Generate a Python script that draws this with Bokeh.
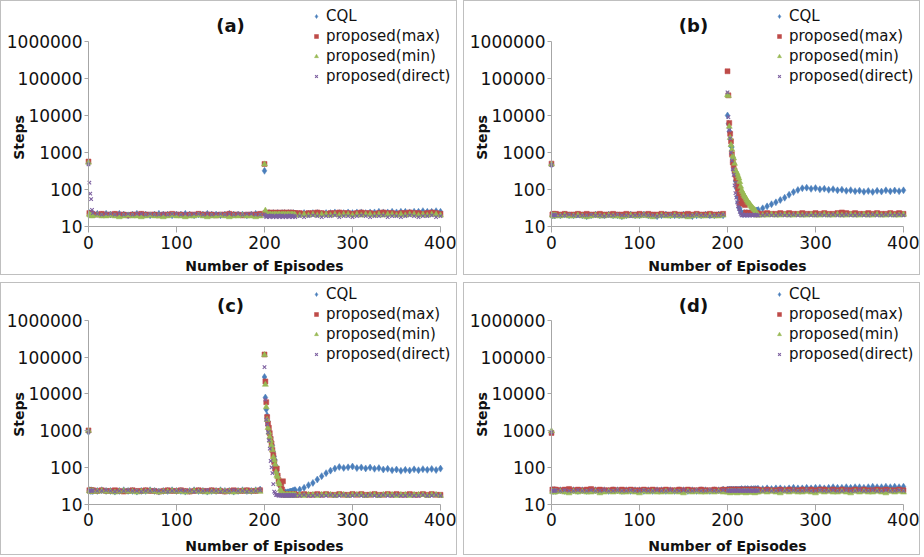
import math
from bokeh.plotting import figure
from bokeh.models import FixedTicker, NumeralTickFormatter, Label, Legend, LegendItem
from bokeh.layouts import column, row
from bokeh.embed import file_html
from bokeh.resources import INLINE

# ---------------- data ----------------
EPISODES = [0, 1, 2, 3, 4, 5,
            10, 15, 20, 25, 30, 35, 40, 45, 50, 55, 60, 65, 70, 75, 80, 85, 90, 95,
            100, 105, 110, 115, 120, 125, 130, 135, 140, 145, 150, 155, 160, 165, 170, 175,
            180, 185, 190, 195,
            200, 201, 202, 203, 204, 205, 206, 207, 208, 209, 210, 211, 212, 213, 214, 215,
            216, 217, 218, 219, 220, 221, 222, 223, 224, 225, 226, 227, 228, 229, 230, 231,
            232, 233, 234, 235,
            240, 245, 250, 255, 260, 265, 270, 275, 280, 285, 290, 295, 300, 305, 310, 315,
            320, 325, 330, 335, 340, 345, 350, 355, 360, 365, 370, 375, 380, 385, 390, 395, 400]

SERIES = ["CQL", "proposed(max)", "proposed(min)", "proposed(direct)"]
X_TICKS = [0, 100, 200, 300, 400]
Y_TICKS = [10, 100, 1000, 10000, 100000, 1000000]
PANELS = ["(a)", "(b)", "(c)", "(d)"]
X_TITLE = "Number of Episodes"
Y_TITLE = "Steps"

# ---- panel (a)
A_CQL = [520, 23, 22, 22, 21, 22,
         22, 21, 22, 21, 21, 22, 21, 20, 21, 22, 21, 21, 20, 21, 22, 21, 21, 20, 21, 21,
         22, 21, 20, 21, 21, 22, 21, 21, 20, 21, 22, 21, 21, 21, 20, 21, 22, 21,
         320, 22, 22, 21, 22, 23, 22, 21, 22, 22, 23, 22, 21, 22, 22, 23, 22, 22, 21, 22,
         23, 22, 22, 23, 22, 21, 22, 23, 22, 22, 23, 22, 22, 23, 22, 22,
         22, 23, 22, 23, 23, 22, 23, 23, 24, 23, 23, 24, 23, 24, 24, 23, 24, 24, 25, 24,
         24, 25, 24, 25, 25, 24, 25, 25, 26, 25, 25, 26, 25]
A_MAX = [570, 23, 22, 21, 22, 21,
         21, 22, 21, 21, 22, 21, 21, 20, 21, 21, 22, 21, 21, 21, 20, 21, 21, 22, 21, 21,
         20, 21, 21, 22, 21, 21, 21, 20, 21, 21, 22, 21, 21, 20, 21, 21, 21, 22,
         490, 23, 23, 24, 23, 23, 22, 23, 24, 23, 23, 22, 23, 23, 24, 23, 23, 22, 23, 23,
         24, 23, 22, 23, 23, 24, 23, 23, 22, 23, 24, 23, 23, 22, 23, 23,
         23, 22, 23, 23, 24, 23, 22, 23, 23, 24, 23, 23, 22, 23, 24, 23, 23, 22, 23, 24,
         23, 23, 22, 23, 23, 24, 23, 23, 22, 23, 24, 23, 22]
A_MIN = [540, 21, 20, 20, 19, 20,
         20, 19, 19, 20, 19, 18, 19, 20, 19, 19, 18, 19, 20, 19, 19, 18, 19, 20, 19, 19,
         18, 19, 19, 20, 19, 18, 19, 19, 20, 19, 18, 19, 19, 20, 19, 19, 18, 19,
         480, 27, 21, 20, 21, 20, 21, 21, 20, 21, 20, 21, 21, 20, 21, 20, 21, 21, 20, 21,
         20, 21, 21, 20, 21, 20, 21, 21, 20, 21, 20, 21, 21, 20, 21, 20,
         20, 21, 20, 21, 20, 21, 21, 20, 21, 20, 21, 21, 20, 21, 20, 21, 21, 20, 21, 20,
         21, 21, 20, 21, 20, 21, 21, 20, 21, 20, 21, 21, 20]
A_DIR = [480, 153, 77, 55, 28, 23,
         22, 21, 22, 22, 21, 22, 21, 22, 21, 22, 22, 21, 22, 21, 21, 22, 21, 22, 22, 21,
         22, 21, 22, 22, 21, 22, 21, 22, 22, 21, 22, 21, 22, 21, 22, 22, 21, 21,
         21, 19, 18, 19, 20, 19, 18, 19, 19, 20, 18, 19, 19, 18, 19, 20, 19, 18, 19, 19,
         20, 18, 19, 19, 18, 19, 20, 19, 18, 19, 19, 20, 18, 19, 19, 18,
         19, 18, 19, 20, 19, 18, 19, 19, 20, 18, 19, 19, 18, 19, 20, 19, 18, 19, 19, 20,
         18, 19, 19, 18, 19, 20, 19, 18, 19, 19, 20, 18, 19]

# ---- panel (b)
B_CQL = [470, 20, 21, 20, 20, 21,
         20, 21, 20, 20, 21, 20, 19, 20, 21, 20, 20, 21, 20, 20, 19, 20, 21, 20, 20, 21,
         20, 20, 19, 20, 21, 20, 20, 20, 21, 20, 19, 20, 20, 21, 20, 20, 21, 20,
         10000, 6000, 3700, 3500, 1500, 1400, 700, 350, 300, 170, 110, 65, 45, 33, 30, 25,
         23, 22, 22, 23, 22, 22, 23, 22, 22, 23, 23, 22, 23, 24, 25, 25, 26, 27, 27, 28,
         31, 35, 40, 45, 52, 60, 72, 85, 97, 108, 112, 104, 109, 101, 105, 98, 102, 95,
         99, 92, 96, 90, 93, 87, 91, 86, 92, 88, 95, 89, 94, 90, 95]
B_MAX = [500, 21, 22, 21, 21, 22,
         21, 22, 21, 21, 22, 21, 22, 21, 21, 22, 21, 21, 22, 21, 21, 22, 21, 21, 22, 21,
         22, 21, 21, 22, 21, 21, 22, 21, 21, 22, 21, 22, 21, 21, 22, 21, 21, 22,
         157000, 35000, 6300, 3200, 2000, 900, 540, 450, 325, 250, 195, 130, 100, 78, 42, 60,
         65, 50, 45, 40, 38, 24, 22, 22, 23, 22, 22, 23, 22, 22, 23, 22, 22, 23, 22, 22,
         22, 23, 22, 22, 23, 22, 23, 22, 22, 23, 22, 22, 23, 22, 23, 22, 22, 23, 24, 23,
         22, 23, 22, 22, 23, 22, 23, 22, 22, 23, 22, 23, 22]
B_MIN = [480, 20, 19, 20, 19, 20,
         19, 20, 19, 19, 20, 19, 18, 19, 20, 19, 19, 20, 19, 19, 18, 19, 20, 19, 19, 20,
         19, 18, 19, 20, 19, 19, 20, 19, 19, 18, 19, 20, 19, 19, 20, 19, 19, 20,
         36000, 34000, 5000, 2500, 1600, 1200, 800, 700, 500, 330, 300, 270, 230, 200, 160, 120,
         95, 85, 75, 68, 63, 57, 51, 47, 44, 42, 38, 35, 33, 31, 29, 28, 26, 21, 20, 20,
         20, 20, 21, 20, 20, 21, 20, 20, 21, 20, 20, 21, 20, 20, 21, 20, 20, 21, 20, 20,
         21, 20, 20, 21, 20, 20, 21, 20, 20, 21, 20, 20, 21]
B_DIR = [460, 20, 20, 21, 20, 20,
         20, 20, 21, 20, 19, 20, 20, 21, 20, 20, 19, 20, 20, 21, 20, 20, 19, 20, 20, 21,
         20, 20, 19, 20, 20, 21, 20, 20, 19, 20, 20, 21, 20, 20, 19, 20, 20, 21,
         42000, 9000, 4000, 2400, 1000, 600, 350, 250, 130, 80, 60, 45, 35, 30, 25, 22,
         20, 20, 21, 20, 20, 21, 20, 20, 21, 20, 20, 21, 20, 20, 21, 20, 20, 21, 20, 20,
         20, 21, 20, 20, 21, 20, 20, 21, 20, 20, 21, 20, 20, 21, 20, 20, 21, 20, 20, 21,
         20, 20, 21, 20, 20, 21, 20, 20, 21, 20, 20, 21, 20]

# ---- panel (c)
C_CQL = [930, 24, 23, 24, 23, 23,
         23, 24, 23, 23, 22, 23, 24, 23, 23, 22, 23, 23, 24, 23, 22, 23, 23, 24, 23, 23,
         22, 23, 24, 23, 23, 22, 23, 23, 24, 23, 23, 22, 23, 24, 23, 23, 24, 25,
         29000, 8000, 3800, 2600, 1800, 1000, 800, 650, 500, 400, 265, 200, 160, 110, 75, 61,
         45, 35, 30, 25, 22, 20, 20, 20, 21, 20, 21, 21, 21, 22, 22, 22, 23, 23, 24, 24,
         25, 28, 33, 38, 47, 58, 70, 82, 93, 103, 97, 101, 106, 96, 100, 94, 99, 92,
         96, 88, 92, 84, 88, 81, 86, 83, 89, 84, 90, 86, 91, 85, 93]
C_MAX = [1020, 24, 23, 24, 23, 24,
         23, 24, 23, 23, 24, 23, 22, 23, 24, 23, 23, 24, 23, 23, 22, 23, 24, 23, 23, 24,
         23, 22, 23, 24, 23, 23, 24, 23, 23, 22, 23, 24, 23, 23, 24, 23, 23, 24,
         119000, 22000, 6000, 2350, 1560, 1200, 860, 600, 450, 300, 215, 140, 93, 90, 93, 60,
         45, 40, 35, 33, 25, 42, 19, 18, 19, 18, 18, 19, 18, 19, 18, 18, 19, 18, 19, 18,
         18, 19, 18, 18, 19, 18, 19, 18, 18, 19, 18, 18, 19, 18, 19, 18, 18, 19, 18, 18,
         19, 18, 19, 18, 18, 19, 18, 18, 19, 18, 19, 18, 18]
C_MIN = [1000, 23, 22, 23, 22, 23,
         22, 23, 22, 22, 21, 22, 23, 22, 22, 21, 22, 22, 23, 22, 21, 22, 22, 23, 22, 22,
         21, 22, 23, 22, 22, 21, 22, 22, 23, 22, 22, 21, 22, 23, 22, 22, 23, 22,
         115000, 18000, 4400, 2000, 1200, 900, 680, 530, 400, 300, 190, 157, 120, 75, 60, 55,
         40, 35, 25, 22, 20, 18, 18, 18, 17, 18, 18, 17, 18, 18, 18, 17, 18, 18, 17, 18,
         18, 17, 18, 18, 17, 18, 18, 18, 17, 18, 18, 17, 18, 18, 18, 17, 18, 18, 17, 18,
         18, 18, 17, 18, 18, 17, 18, 18, 18, 17, 18, 18, 17]
C_DIR = [980, 23, 24, 23, 23, 24,
         23, 23, 24, 23, 22, 23, 23, 24, 23, 23, 22, 23, 23, 24, 23, 23, 22, 23, 23, 24,
         23, 23, 22, 23, 23, 24, 23, 23, 22, 23, 23, 24, 23, 23, 22, 23, 23, 24,
         54000, 7000, 2000, 1500, 900, 550, 325, 150, 100, 70, 35, 22, 20, 18, 18, 18,
         17, 18, 17, 18, 17, 17, 18, 17, 18, 17, 17, 18, 17, 18, 17, 17, 18, 17, 18, 17,
         17, 18, 17, 17, 18, 17, 17, 18, 17, 17, 18, 17, 17, 18, 17, 17, 18, 17, 17, 18,
         17, 17, 18, 17, 17, 18, 17, 17, 18, 17, 17, 18, 17]

# ---- panel (d)
D_CQL = [900, 24, 23, 24, 24, 23,
         24, 23, 24, 24, 23, 24, 23, 24, 24, 23, 24, 23, 24, 24, 23, 24, 23, 24, 24, 23,
         24, 23, 24, 24, 23, 24, 23, 24, 24, 23, 24, 23, 24, 24, 23, 24, 24, 25,
         25, 24, 25, 24, 25, 25, 24, 25, 24, 25, 25, 24, 25, 24, 25, 25, 26, 25, 24, 25,
         26, 25, 25, 26, 25, 24, 25, 26, 25, 25, 26, 25, 26, 25, 26, 26,
         26, 27, 26, 27, 27, 26, 27, 28, 27, 27, 28, 27, 28, 28, 27, 28, 29, 28, 28, 29,
         28, 29, 29, 28, 29, 30, 29, 29, 30, 29, 30, 29, 30]
D_MAX = [870, 25, 24, 25, 24, 25,
         24, 25, 26, 24, 25, 24, 25, 26, 24, 25, 24, 24, 25, 24, 25, 24, 25, 24, 24, 25,
         24, 25, 24, 24, 25, 24, 24, 25, 24, 25, 24, 24, 25, 24, 24, 25, 24, 25,
         24, 25, 24, 24, 25, 24, 25, 24, 24, 25, 24, 25, 24, 24, 25, 24, 24, 25, 24, 25,
         24, 24, 25, 24, 24, 25, 24, 25, 24, 24, 25, 24, 24, 25, 24, 25,
         24, 25, 24, 24, 25, 24, 25, 24, 24, 25, 24, 25, 24, 25, 25, 24, 25, 24, 25, 24,
         24, 25, 24, 25, 24, 24, 25, 24, 25, 24, 24, 25, 24]
D_MIN = [980, 22, 21, 22, 21, 22,
         22, 21, 20, 22, 21, 22, 21, 21, 22, 20, 21, 22, 21, 22, 21, 21, 22, 21, 20, 22,
         21, 22, 21, 21, 22, 21, 22, 21, 20, 22, 21, 22, 21, 21, 22, 21, 22, 21,
         21, 22, 21, 20, 22, 21, 22, 21, 21, 22, 21, 20, 22, 21, 22, 21, 21, 22, 21, 22,
         21, 20, 22, 21, 22, 21, 21, 22, 21, 22, 21, 20, 22, 21, 22, 21,
         22, 21, 22, 21, 20, 22, 21, 22, 21, 21, 22, 21, 20, 22, 21, 22, 21, 21, 22, 21,
         20, 22, 21, 22, 21, 21, 22, 21, 20, 22, 21, 22, 21]
D_DIR = [900, 23, 24, 23, 23, 24,
         23, 24, 23, 23, 24, 23, 23, 24, 23, 23, 24, 23, 23, 24, 23, 23, 24, 23, 23, 24,
         23, 23, 24, 23, 23, 24, 23, 23, 24, 23, 23, 24, 23, 23, 24, 23, 23, 24,
         23, 24, 23, 23, 24, 23, 23, 24, 23, 23, 24, 23, 23, 24, 23, 23, 24, 23, 23, 24,
         23, 23, 24, 23, 23, 24, 23, 23, 24, 23, 23, 24, 23, 23, 24, 23,
         23, 24, 23, 23, 24, 23, 23, 24, 23, 23, 24, 23, 23, 24, 23, 23, 24, 23, 23, 24,
         23, 23, 24, 23, 23, 24, 23, 23, 24, 23, 23, 24, 23]

PANEL_DATA = [[A_CQL, A_MAX, A_MIN, A_DIR],
              [B_CQL, B_MAX, B_MIN, B_DIR],
              [C_CQL, C_MAX, C_MIN, C_DIR],
              [D_CQL, D_MAX, D_MIN, D_DIR]]

for pi_, pdata in enumerate(PANEL_DATA):
    for si, s in enumerate(pdata):
        assert len(s) == len(EPISODES), (pi_, si, len(s), len(EPISODES))

# ---------------- styling / layout ----------------
FONT = "DejaVu Sans"
TXT = "#111111"
AXIS_GRAY = "#a6a6a6"
STYLES = [
    dict(marker="diamond", color="#4A7EBB", size=7),
    dict(marker="square", color="#BE4B48", size=5),
    dict(marker="triangle", color="#98B954", size=6),
    dict(marker="x", color="#7D60A0", size=5),
]

PW = 457
X0_PX = 87.0          # pixel column of episode 0 inside a panel
X_PX_PER_EP = 0.88
ROW_GEOM = {
    True: dict(h=275, y10=225.0, y1e6=40.0, title_y=24, ylab_y=136, xlab_y=264, leg_top=5),
    False: dict(h=273, y10=220.7, y1e6=37.0, title_y=22, ylab_y=131, xlab_y=262, leg_top=1),
}


def make_panel(idx, top_row):
    g = ROW_GEOM[top_row]
    H = g["h"]
    dec = (g["y10"] - g["y1e6"]) / 5.0
    y_start = 10 ** (1 - (H - g["y10"]) / dec)
    y_end = 10 ** (6 + g["y1e6"] / dec)
    x_start = -X0_PX / X_PX_PER_EP
    x_end = (PW - X0_PX) / X_PX_PER_EP

    p = figure(width=PW, height=H, y_axis_type="log",
               x_range=(x_start, x_end), y_range=(y_start, y_end),
               output_backend="svg", toolbar_location=None,
               min_border_left=0, min_border_right=0,
               min_border_top=0, min_border_bottom=0)
    p.outline_line_color = None
    p.xgrid.visible = False
    p.ygrid.visible = False
    p.background_fill_color = "white"
    p.border_fill_color = "white"
    p.styles = {"border": "1px solid #bfbfbf"}

    # x axis (drawn at y = 10)
    xa = p.xaxis[0]
    xa.fixed_location = 10
    xa.ticker = FixedTicker(ticks=X_TICKS, minor_ticks=[])
    xa.bounds = (0, 400)
    xa.axis_line_color = AXIS_GRAY
    xa.major_tick_line_color = AXIS_GRAY
    xa.major_tick_out = 6
    xa.major_tick_in = 0
    xa.minor_tick_line_color = None
    xa.major_label_standoff = 3
    xa.major_label_text_font = FONT
    xa.major_label_text_font_size = "17px"
    xa.major_label_text_color = TXT

    # y axis (drawn at x = 0)
    ya = p.yaxis[0]
    ya.fixed_location = 0
    ya.ticker = FixedTicker(ticks=Y_TICKS, minor_ticks=[])
    ya.formatter = NumeralTickFormatter(format="0")
    ya.bounds = (10, 1000000)
    ya.axis_line_color = AXIS_GRAY
    ya.major_tick_line_color = AXIS_GRAY
    ya.major_tick_out = 4
    ya.major_tick_in = 0
    ya.minor_tick_line_color = None
    ya.major_label_standoff = 2
    ya.major_label_text_font = FONT
    ya.major_label_text_font_size = "17px"
    ya.major_label_text_color = TXT

    items = []
    for si, (name, st) in enumerate(zip(SERIES, STYLES)):
        ys = PANEL_DATA[idx][si]
        if st["marker"] == "x":
            r = p.scatter(EPISODES, ys, marker="x", size=st["size"],
                          line_color=st["color"], line_width=1.1)
        else:
            r = p.scatter(EPISODES, ys, marker=st["marker"], size=st["size"],
                          fill_color=st["color"], line_color=st["color"], line_width=0.5)
        items.append(LegendItem(label=name, renderers=[r]))

    legend = Legend(items=items, location=(310, H - g["leg_top"] - 80),
                    padding=0, margin=0, spacing=0,
                    label_height=20, glyph_height=20, glyph_width=10,
                    label_standoff=5,
                    background_fill_alpha=0, border_line_alpha=0,
                    label_text_font=FONT, label_text_font_size="15px",
                    label_text_color=TXT)
    p.add_layout(legend)

    p.add_layout(Label(x=229, y=H - g["title_y"], x_units="screen", y_units="screen",
                       text=PANELS[idx], text_font=FONT, text_font_style="bold",
                       text_font_size="18px", text_align="center",
                       text_baseline="middle", text_color=TXT))
    p.add_layout(Label(x=17, y=H - g["ylab_y"], x_units="screen", y_units="screen",
                       text=Y_TITLE, angle=math.pi / 2, text_font=FONT,
                       text_font_style="bold", text_font_size="14px",
                       text_align="center", text_baseline="middle",
                       text_color=TXT))
    p.add_layout(Label(x=263, y=H - g["xlab_y"], x_units="screen", y_units="screen",
                       text=X_TITLE, text_font=FONT,
                       text_font_style="bold", text_font_size="14px",
                       text_align="center", text_baseline="middle",
                       text_color=TXT))
    return p


pa = make_panel(0, True)
pb = make_panel(1, True)
pc = make_panel(2, False)
pd_ = make_panel(3, False)

layout = column(row(pa, pb, spacing=6), row(pc, pd_, spacing=6), spacing=7)

open("out.html", "w").write(file_html(layout, INLINE))
